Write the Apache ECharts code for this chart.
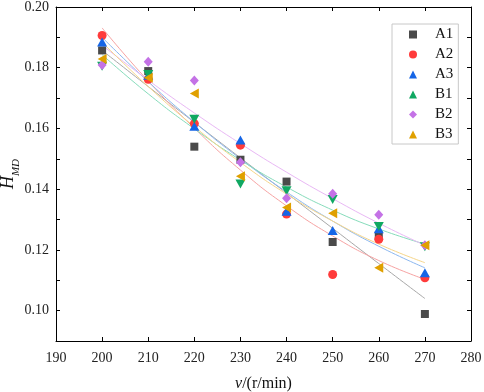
<!DOCTYPE html>
<html>
<head>
<meta charset="utf-8">
<script src="https://cdn.jsdelivr.net/npm/echarts@6/dist/echarts.min.js"></script>
<style>
  html, body { margin: 0; padding: 0; background: #fff; }
  #chart { width: 484px; height: 392px; }
</style>
</head>
<body>
<div id="chart"></div>
<script>
// rotational speed v (r/min)
var speeds = [200, 210, 220, 230, 240, 250, 260, 270];

// measured H_MD
var A1 = [0.1857, 0.1789, 0.1540, 0.1497, 0.1425, 0.1226, 0.1248, 0.0989];
var A2 = [0.1906, 0.1762, 0.1616, 0.1545, 0.1318, 0.1119, 0.1235, 0.1108];
var A3 = [0.1885, 0.1775, 0.1607, 0.1562, 0.1327, 0.1264, 0.1270, 0.1125];
var B1 = [0.1805, 0.1778, 0.1630, 0.1417, 0.1395, 0.1366, 0.1277, 0.1210];
var B2 = [0.1809, 0.1820, 0.1758, 0.1489, 0.1370, 0.1385, 0.1316, 0.1215];
var B3 = [0.1829, 0.1767, 0.1715, 0.1443, 0.1340, 0.1321, 0.1141, 0.1215];

// fitted curves, read at the same speeds
var fitA1 = [0.1857, 0.1738, 0.1620, 0.1503, 0.1387, 0.1271, 0.1155, 0.1040];
var fitA2 = [0.1931, 0.1756, 0.1601, 0.1463, 0.1345, 0.1246, 0.1165, 0.1103];
var fitA3 = [0.1900, 0.1754, 0.1621, 0.1500, 0.1391, 0.1295, 0.1212, 0.1141];
var fitB1 = [0.1843, 0.1714, 0.1599, 0.1496, 0.1407, 0.1331, 0.1269, 0.1219];
var fitB2 = [0.1874, 0.1759, 0.1651, 0.1550, 0.1456, 0.1369, 0.1288, 0.1215];
var fitB3 = [0.1884, 0.1738, 0.1606, 0.1488, 0.1384, 0.1295, 0.1219, 0.1158];

var xTicks = [190, 280, 10];       // min, max, step
var yTicks = [0.09, 0.20, 0.01];   // min, max, step (labels every 0.02)

var names = ['A1', 'A2', 'A3', 'B1', 'B2', 'B3'];
var values = [A1, A2, A3, B1, B2, B3];
var fits = [fitA1, fitA2, fitA3, fitB1, fitB2, fitB3];
var markColors = ['#4a4a4a', '#ff3b3b', '#1565e6', '#10a862', '#c472e6', '#e0a000'];
var fitColors = ['#a8a8a8', '#f7a3a3', '#8cb8f0', '#86dcbb', '#e9b8f5', '#f6d68a'];
var symbols = ['rect', 'circle', 'triangle', 'triangle', 'diamond', 'triangle'];
var rotates = [0, 0, 0, 180, 0, 90];
var sizes = [[8, 8], 9, [10, 9], [10, 9], [9, 10], [10, 9]];

var font = 'Liberation Serif';

function pairs(ys) {
  return speeds.map(function (x, i) { return [x, ys[i]]; });
}

var series = [];
fits.forEach(function (f, i) {
  series.push({
    name: 'fit' + names[i],
    type: 'line',
    data: pairs(f),
    smooth: true,
    showSymbol: false,
    silent: true,
    z: 1,
    lineStyle: { width: 1, color: fitColors[i] }
  });
});
values.forEach(function (v, i) {
  series.push({
    name: names[i],
    type: 'scatter',
    data: pairs(v),
    symbol: symbols[i],
    symbolRotate: rotates[i],
    symbolSize: sizes[i],
    z: 3 + i,
    itemStyle: { color: markColors[i], opacity: 1 }
  });
});

var axisLine = { show: true, onZero: false, lineStyle: { color: '#000', width: 1 } };
var axisTick = { show: true, inside: true, length: 4, lineStyle: { color: '#000' } };
var tickRich = { t: { fontFamily: font, fontSize: 14, color: '#222' } };

var chart = echarts.init(document.getElementById('chart'));
chart.setOption({
  backgroundColor: '#fff',
  animation: false,
  textStyle: { fontFamily: font },
  grid: { left: 56, right: 13, top: 7, bottom: 51, outerBoundsMode: 'none', containLabel: false },
  legend: {
    data: names,
    orient: 'vertical',
    left: 392,
    top: 24,
    padding: [3, 5, 2, 17],
    itemWidth: 8,
    itemHeight: 8,
    itemGap: 5,
    borderColor: '#c8c8c8',
    borderWidth: 1,
    textStyle: { fontFamily: font, fontSize: 15, color: '#111', lineHeight: 15, padding: [0, 0, 0, 13] }
  },
  xAxis: [{
    type: 'value',
    min: xTicks[0], max: xTicks[1], interval: xTicks[2],
    name: '{i|v}/(r/min)',
    nameLocation: 'middle',
    nameGap: 35,
    nameMoveOverlap: false,
    nameTextStyle: {
      fontFamily: font, fontSize: 16, color: '#111',
      rich: { i: { fontFamily: font, fontSize: 16, fontStyle: 'italic', color: '#111' } }
    },
    axisLine: axisLine,
    axisTick: axisTick,
    splitLine: { show: false },
    axisLabel: {
      fontFamily: font, fontSize: 14, color: '#222', margin: 10,
      rich: tickRich,
      formatter: function (v) { return '{t|' + v + '}'; }
    }
  }, {
    type: 'value',
    position: 'top',
    min: xTicks[0], max: xTicks[1], interval: xTicks[2],
    axisLine: axisLine,
    axisTick: axisTick,
    splitLine: { show: false },
    axisLabel: { show: false }
  }],
  yAxis: [{
    type: 'value',
    min: yTicks[0], max: yTicks[1], interval: yTicks[2],
    name: '{h|H}{s|MD}',
    nameLocation: 'middle',
    nameGap: 39,
    nameMoveOverlap: false,
    nameRotate: 90,
    nameTextStyle: {
      color: '#111',
      rich: {
        h: { fontFamily: font, fontSize: 18, fontStyle: 'italic', color: '#111', verticalAlign: 'bottom' },
        s: { fontFamily: font, fontSize: 11, fontStyle: 'italic', color: '#111', verticalAlign: 'bottom', padding: [0, 0, -5, 0] }
      }
    },
    axisLine: axisLine,
    axisTick: axisTick,
    splitLine: { show: false },
    axisLabel: {
      fontFamily: font, fontSize: 14, color: '#222', margin: 7,
      rich: tickRich,
      formatter: function (v) {
        return Math.round(v * 100) % 2 === 0 ? '{t|' + v.toFixed(2) + '}' : '';
      }
    }
  }, {
    type: 'value',
    position: 'right',
    min: yTicks[0], max: yTicks[1], interval: yTicks[2],
    axisLine: axisLine,
    axisTick: axisTick,
    splitLine: { show: false },
    axisLabel: { show: false }
  }],
  series: series
});
</script>
</body>
</html>
